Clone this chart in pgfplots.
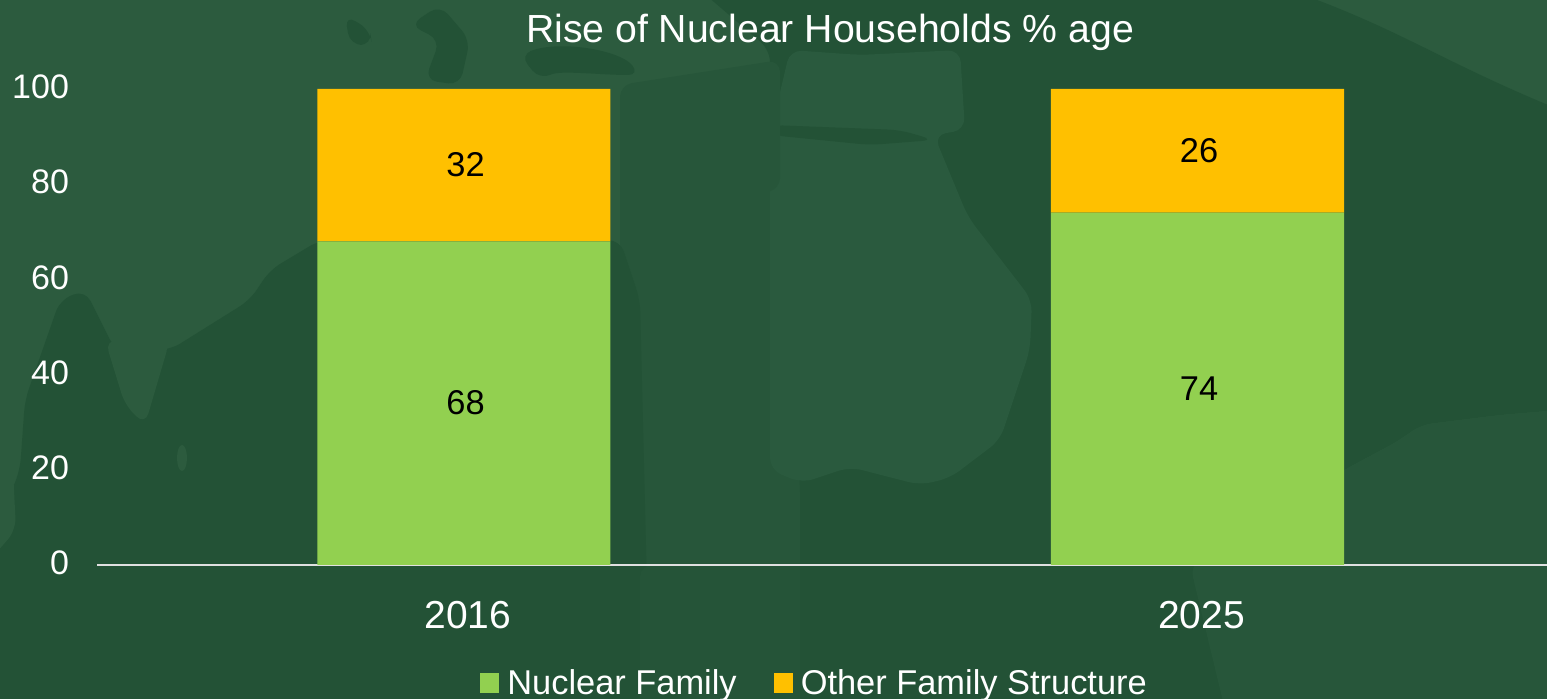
\documentclass[border=0pt]{standalone}
\usepackage{pgfplots}
\usepackage{pgfplotstable}
\usepackage{fontspec}
\setmainfont{Liberation Sans}
\pgfplotsset{compat=1.18}
\definecolor{bgbase}{HTML}{2C5B3E}
\definecolor{bgmid}{HTML}{27563A}
\definecolor{bgdark}{HTML}{235236}
\definecolor{bgland}{HTML}{2A5A3E}
\definecolor{nuclear}{HTML}{92D050}
\definecolor{otherfam}{HTML}{FFC000}
\pgfplotstableread{
x v
0 68
1 74
}\tabNuclear
\pgfplotstableread{
x v
0 32
1 26
}\tabOther
\pgfplotsset{sqlegend/.style={legend image code/.code={\fill[##1] (0pt,-4.6pt) rectangle (9.5pt,5.4pt);}}}
\begin{document}
\begin{tikzpicture}
\useasboundingbox (0pt,0pt) rectangle (773.5pt,349.5pt);
\begin{scope}[x=0.5pt,y=-0.5pt,yshift=349.5pt]
\clip (0,0) rectangle (1547,699);
\fill[bgbase] (-5,-5) rectangle (1552,704);
\begin{scope}[rounded corners=6pt]
% faint map in the background
\fill[bgmid] (620,130) -- (800,130) -- (800,710) -- (620,710) -- cycle;
\fill[bgdark] (-10,545) -- (20,470) -- (25,400) -- (60,300) -- (85,290) -- (115,350) -- (170,350) -- (250,300) -- (270,270) -- (320,240) -- (620,240) -- (640,300) -- (650,710) -- (-10,710) -- cycle;
\fill[bgbase] (105,340) -- (170,340) -- (145,425) -- (125,405) -- cycle;
\fill[bgbase] (182,458) ellipse (5 and 13);
\fill[bgbase] (-10,470) -- (12,450) -- (16,530) -- (-10,560) -- cycle;
\fill[bgdark!60!bgmid] (640,565) -- (810,565) -- (810,710) -- (640,710) -- cycle;
% sea around the land to the right
\fill[bgdark] (700,-10) -- (1290,-10) .. controls (1400,30) and (1440,60) .. (1560,110) -- (1560,410) -- (1500,415) -- (1420,425) -- (1400,440) -- (1344,470) -- (1190,565) -- (1215,650) -- (1225,710) -- (800,710) -- (800,480) -- (770,300) -- (770,50) -- cycle;
\fill[bgmid] (1344,470) -- (1400,440) -- (1420,425) -- (1500,415) -- (1560,410) -- (1560,710) -- (1225,710) -- (1190,565) -- cycle;
\fill[bgland] (770,135) -- (790,50) -- (860,55) -- (960,50) -- (965,130) -- (934,135) -- (968,217) -- (1032,300) -- (1030,350) -- (1000,440) -- (950,478) -- (920,485) -- (850,467) -- (802,483) -- (770,470) -- cycle;
\fill[bgdark] (770,125) -- (900,130) -- (934,140) -- (870,145) -- (770,135) -- cycle;
\fill[bgdark] (520,55) .. controls (560,40) and (620,50) .. (640,75) .. controls (600,75) and (560,70) .. (540,80) -- cycle;
\fill[bgdark] (410,25) -- (440,5) -- (470,40) -- (460,85) -- (425,80) -- (440,40) -- cycle;
\fill[bgdark] (345,15) -- (370,30) -- (372,45) -- (350,45) -- cycle;
\fill[bgmid] (620,85) -- (780,60) -- (780,190) -- (710,200) -- (620,195) -- cycle;
\end{scope}
\end{scope}
\begin{axis}[
  at={(48.5pt,67pt)}, anchor=south west,
  scale only axis,
  width=725pt, height=238pt,
  ybar stacked,
  bar width=0.3995,
  xmin=-0.5003, xmax=1.4765,
  ymin=0, ymax=100,
  axis x line=bottom,
  axis y line=left,
  x axis line style={draw=white!88!black, line width=1pt, -},
  y axis line style={draw=none},
  major tick length=0pt,
  xtick={0,1},
  xticklabels={2016,2025},
  ytick={0,20,40,60,80,100},
  /pgf/number format/assume math mode=true,
  xticklabel style={font=\fontsize{19.5}{22}\selectfont, text=white, anchor=base, yshift=-32pt, xshift=2pt},
  yticklabel style={font=\fontsize{17}{20}\selectfont, text=white, anchor=east, xshift=-10.5pt, yshift=1pt},
  title={Rise of Nuclear Households \% age},
  title style={font=\fontsize{19.6}{22}\selectfont, text=white, at={(axis description cs:0.5055,1.0735)}, anchor=base},
  legend columns=2,
  legend style={draw=none, fill=none, font=\fontsize{17.2}{20}\selectfont, text=white, at={(axis description cs:0.2644,-0.279)}, anchor=south west, inner sep=0pt, outer sep=0pt, /tikz/every even column/.style={column sep=14.5pt}, nodes={inner xsep=4pt, inner ysep=0pt}},
  nodes near coords,
  every node near coord/.append style={font=\fontsize{17.2}{20}\selectfont, text=black, anchor=center, xshift=0.8pt},
]
\addplot[fill=nuclear, draw=none, sqlegend] table[x=x,y=v] {\tabNuclear};
\addlegendentry{Nuclear Family}
\addplot[fill=otherfam, draw=none, sqlegend] table[x=x,y=v] {\tabOther};
\addlegendentry{Other Family Structure}
\end{axis}
\end{tikzpicture}
\end{document}
